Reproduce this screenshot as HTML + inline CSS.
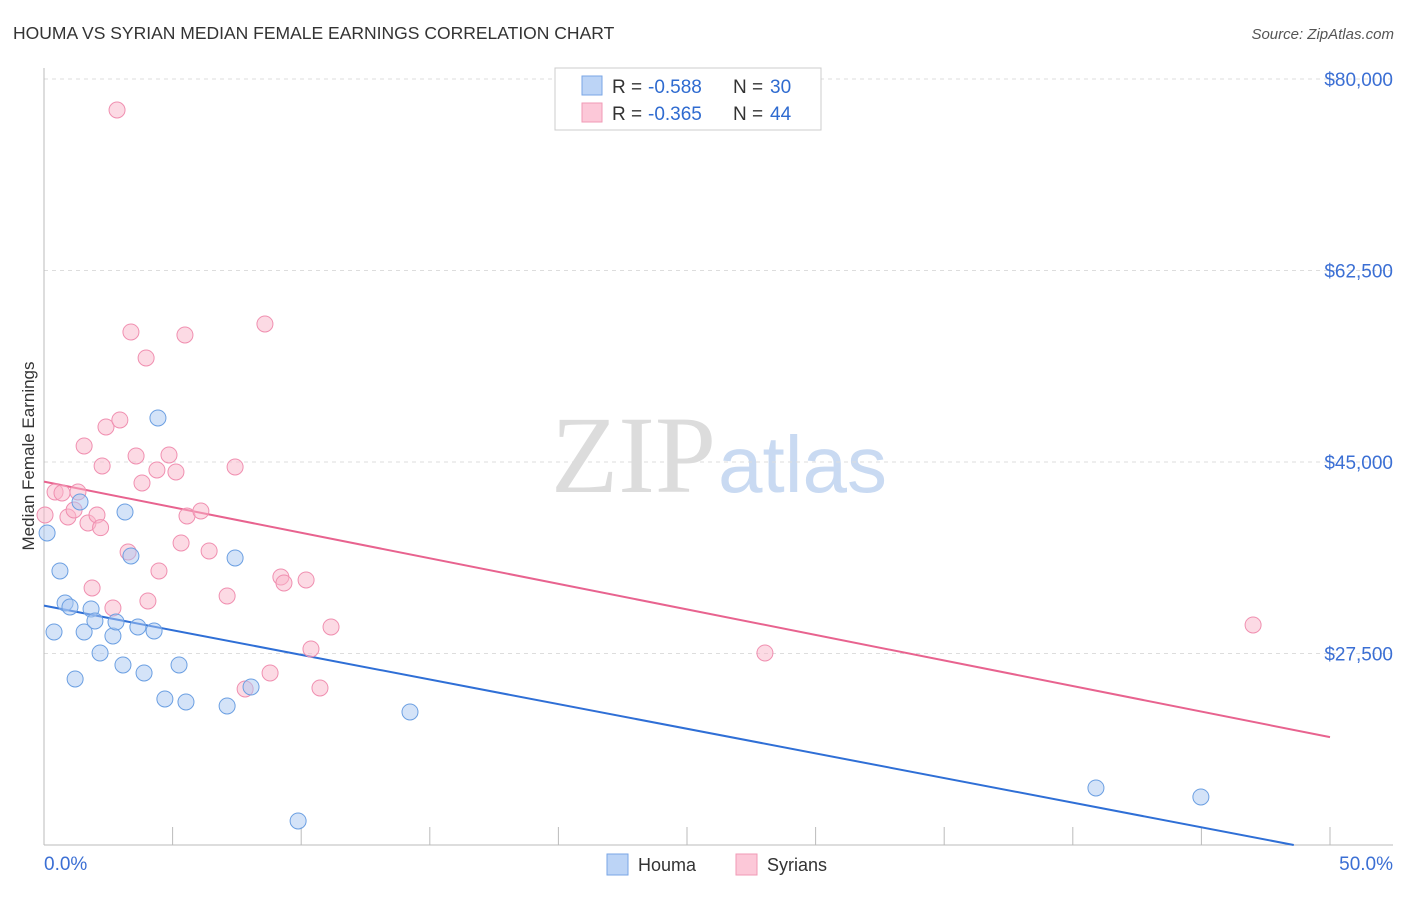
<!DOCTYPE html>
<html><head><meta charset="utf-8"><style>
body{margin:0;background:#fff;font-family:"Liberation Sans",sans-serif;}
</style></head><body>
<svg id="chart" width="1406" height="892" xmlns="http://www.w3.org/2000/svg">
<text x="13" y="39" font-size="17.5" fill="#333">HOUMA VS SYRIAN MEDIAN FEMALE EARNINGS CORRELATION CHART</text>
<text x="1394" y="39" font-size="15" fill="#555" font-style="italic" text-anchor="end">Source: ZipAtlas.com</text>
<text x="716" y="492" font-size="110" fill="#dcdcdc" text-anchor="end" font-family="Liberation Serif,serif">ZIP</text>
<text x="718" y="492" font-size="80" fill="#c9daf2">atlas</text>
<text transform="translate(34,456) rotate(-90)" font-size="17" fill="#333" text-anchor="middle">Median Female Earnings</text>
<g id="grid"></g><g id="axes"></g><g id="lines"></g><g id="pts"></g>
<g>
<rect x="555" y="68" width="266" height="62" fill="#fff" stroke="#ccc"/>
<rect x="582" y="76" width="20" height="19" fill="#bcd4f6" stroke="#7aa6e6"/>
<rect x="582" y="103" width="20" height="19" fill="#fcc8d8" stroke="#f09ab6"/>
<text y="93" font-size="19" fill="#333"><tspan x="612">R =</tspan><tspan x="648" fill="#2f6bd0">-0.588</tspan><tspan x="733">N =</tspan><tspan x="770" fill="#2f6bd0">30</tspan></text>
<text y="120" font-size="19" fill="#333"><tspan x="612">R =</tspan><tspan x="648" fill="#2f6bd0">-0.365</tspan><tspan x="733">N =</tspan><tspan x="770" fill="#2f6bd0">44</tspan></text>
</g>
<g>
<rect x="607" y="854" width="21" height="21" fill="#bcd4f6" stroke="#7aa6e6"/>
<text x="638" y="871" font-size="18" fill="#333">Houma</text>
<rect x="736" y="854" width="21" height="21" fill="#fcc8d8" stroke="#f09ab6"/>
<text x="767" y="871" font-size="18" fill="#333">Syrians</text>
</g>
</svg>
<script>
const yTicks=[27500,45000,62500,80000];
const yTickLabels=["$27,500","$45,000","$62,500","$80,000"];
const xTickLabels=["0.0%","50.0%"];
const houmaX=[0.12,0.62,0.39,0.82,1.01,1.21,1.40,1.56,1.83,1.98,2.18,2.68,2.80,3.07,3.15,3.38,3.65,3.89,4.28,4.43,4.70,5.25,5.52,7.12,7.43,8.05,9.88,14.23,40.90,44.98];
const houmaY=[38513,35041,29467,32117,31751,25172,41346,29467,31569,30472,27548,29101,30381,26451,40432,36412,29924,25720,29558,49022,23344,26451,23070,22705,36229,24441,12196,22156,15212,14389];
const syrX=[2.84,3.38,5.48,8.59,3.97,1.56,2.41,2.95,2.26,3.58,4.86,4.39,5.13,7.43,3.81,0.43,0.70,1.32,0.93,1.17,1.71,2.06,5.56,6.10,3.27,5.33,6.42,4.47,1.87,2.68,4.04,7.12,9.21,9.33,10.19,11.16,10.38,8.79,7.82,10.73,28.03,47.01,0.04,2.2];
const syrY=[77167,56881,56607,57612,54505,46464,48200,48839,44636,45550,45641,44270,44088,44545,43082,42260,42169,42260,39976,40615,39427,40158,40067,40524,36777,37600,36869,35041,33488,31660,32300,32757,34493,33944,34219,29924,27913,25720,24258,24350,27548,30107,40158,39000];
const NS="http://www.w3.org/2000/svg";
const X0=44,X1=1330,Y0=845;
const xs=p=>X0+(p/50)*(X1-X0);
const ys=v=>79+(80000-v)/17500*191.5;
function mk(tag,attrs,parent){const e=document.createElementNS(NS,tag);for(const k in attrs)e.setAttribute(k,attrs[k]);document.getElementById(parent).appendChild(e);return e;}
yTicks.forEach((v,i)=>{
 const g=mk('line',{x1:X0,x2:1393,y1:ys(v),y2:ys(v),stroke:'#ddd','stroke-dasharray':'4,4'},'grid');
 
 
 const t=mk('text',{x:1393,y:ys(v)+7,'font-size':19,fill:'#3b6fd4','text-anchor':'end'},'axes');
 t.textContent=yTickLabels[i];
 
 
});
const topGrid=mk('line',{x1:X0,x2:1393,y1:79,y2:79,stroke:'#ddd','stroke-dasharray':'4,4'},'grid');


const yAxisLine=mk('line',{x1:X0,x2:X0,y1:68,y2:Y0,stroke:'#bbb'},'axes');


const xAxisLine=mk('line',{x1:X0,x2:1393,y1:Y0,y2:Y0,stroke:'#bbb'},'axes');


for(let i=0;i<=10;i++){
 const tk=mk('line',{x1:xs(i*5),x2:xs(i*5),y1:827,y2:Y0,stroke:'#bbb'},'axes');
 
 
}
const xl0=mk('text',{x:44,y:870,'font-size':19,fill:'#3b6fd4'},'axes');xl0.textContent=xTickLabels[0];


const xl1=mk('text',{x:1393,y:870,'font-size':19,fill:'#3b6fd4','text-anchor':'end'},'axes');xl1.textContent=xTickLabels[1];


function fit(X,Y){const n=X.length;let mx=0,my=0;for(let i=0;i<n;i++){mx+=X[i];my+=Y[i];}mx/=n;my/=n;let sxy=0,sxx=0;for(let i=0;i<n;i++){sxy+=(X[i]-mx)*(Y[i]-my);sxx+=(X[i]-mx)**2;}const b=sxy/sxx;return[my-b*mx,b];}
function trend(X,Y,color,name){const[a,b]=fit(X,Y);let x2=50,y2=a+b*50;if(y2<10000&&b!==0){x2=(10000-a)/b;y2=10000;}
 const l=mk('line',{x1:xs(0),y1:ys(a),x2:xs(x2),y2:ys(y2),stroke:color,'stroke-width':2},'lines');
 
 }
trend(houmaX,houmaY,'#2f6fd6','houma-trend-line');
trend(syrX,syrY,'#e8638f','syrians-trend-line');
function pts(X,Y,fill,stroke,name){X.forEach((x,i)=>{const c=mk('circle',{cx:xs(x),cy:ys(Y[i]),r:8,fill:fill,'fill-opacity':0.5,stroke:stroke,'stroke-width':1},'pts');
 
 });}
pts(syrX,syrY,'#f9b6ca','#f08fb0','syrians-point');
pts(houmaX,houmaY,'#a9c8f2','#6b9fe2','houma-point');
</script>
</body></html>
